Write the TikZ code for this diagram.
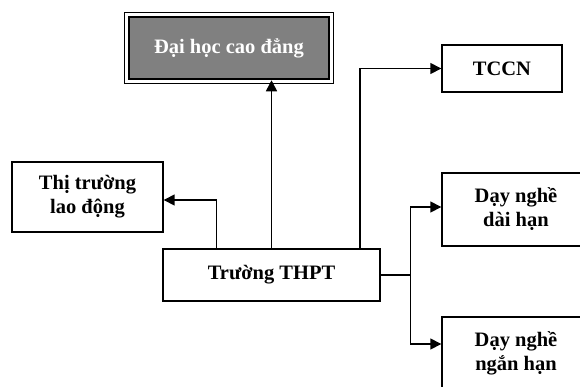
\documentclass[tikz,border=0pt]{standalone}
\usepackage{fontspec}
\setmainfont{Liberation Serif}
\usetikzlibrary{arrows.meta,positioning,calc}
\definecolor{HnGray}{RGB}{128,128,128}
\tikzset{
  hn/box/.style={
    draw=black,
    line width=1.4pt,
    fill=white,
    align=center,
    text=black,
    inner sep=2pt,
    font=\fontsize{20.5}{24}\selectfont\bfseries
  },
  hn/dark/.style={
    hn/box,
    fill=HnGray,
    text=white,
    line width=2.5pt
  },
  hn/arrow/.style={-{Triangle[length=11pt,width=11pt]}, line width=1.5pt, draw=black},
  hn/line/.style={line width=1.5pt, draw=black}
}

\begin{document}
\begin{tikzpicture}[x=1pt,y=-1pt]
  \clip (0,0) rectangle (580,386);
  \node[hn/dark,minimum width=200pt,minimum height=62pt] (daihoc) at (229,48) {Đại học cao đẳng};
  \draw[line width=0.8pt] ([shift={(-3pt,3pt)}]daihoc.north west) rectangle ([shift={(3pt,-3pt)}]daihoc.south east);
  \node[hn/box,minimum width=151pt,minimum height=70pt] (ldong) at (87.5,197) {Thị trường\\lao động};
  \node[hn/box,minimum width=217pt,minimum height=52pt] (thpt) at (271.5,275) {Trường THPT};
  \node[hn/box,minimum width=120pt,minimum height=47pt] (tccn) at (502,68.5) {TCCN};
  \node[hn/box,minimum width=148pt,minimum height=73pt] (daihan) at (516,209.5) {Dạy nghề\\dài hạn};
  \node[hn/box,minimum width=148pt,minimum height=73pt] (nganhan) at (516,353.5) {Dạy nghề\\ngắn hạn};
  \coordinate (chia) at ([xshift=30pt]thpt.east);
  \draw[hn/arrow] (thpt.north) -- (thpt.north |- daihoc.south);
  \draw[hn/arrow] ([xshift=-55pt]thpt.north) |- ([yshift=-3pt]ldong.east);
  \draw[hn/arrow] ([xshift=88.5pt]thpt.north) |- (tccn.west);
  \draw[hn/line] (thpt.east) -- (chia);
  \draw[hn/arrow] (chia) |- ([yshift=2.5pt]daihan.west);
  \draw[hn/arrow] (chia) |- ([yshift=9.5pt]nganhan.west);
\end{tikzpicture}
\end{document}
